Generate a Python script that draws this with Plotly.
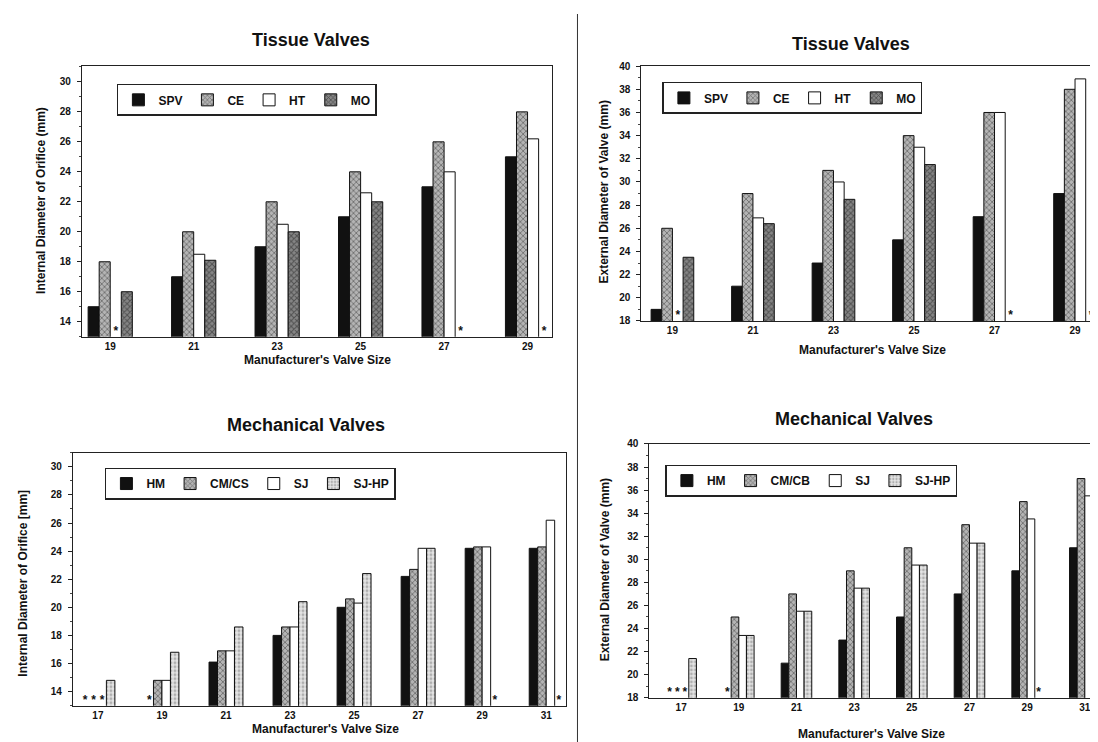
import plotly.graph_objects as go

W, H = 1098, 742

# ---------------- data ----------------
tissue_sizes = ["19", "21", "23", "25", "27", "29"]
tissue_series = ["SPV", "CE", "HT", "MO"]

tissue_internal_spv = [15.0, 17.0, 19.0, 21.0, 23.0, 25.0]
tissue_internal_ce = [18.0, 20.0, 22.0, 24.0, 26.0, 28.0]
tissue_internal_ht = [None, 18.5, 20.5, 22.6, 24.0, 26.2]
tissue_internal_mo = [16.0, 18.1, 20.0, 22.0, None, None]

tissue_external_spv = [19.0, 21.0, 23.0, 25.0, 27.0, 29.0]
tissue_external_ce = [26.0, 29.0, 31.0, 34.0, 36.0, 38.0]
tissue_external_ht = [None, 26.9, 30.0, 33.0, 36.0, 38.9]
tissue_external_mo = [23.5, 26.4, 28.5, 31.5, None, None]

mech_sizes = ["17", "19", "21", "23", "25", "27", "29", "31"]
mech_series_int = ["HM", "CM/CS", "SJ", "SJ-HP"]
mech_series_ext = ["HM", "CM/CB", "SJ", "SJ-HP"]

mech_internal_hm = [None, None, 16.1, 18.0, 20.0, 22.2, 24.2, 24.2]
mech_internal_cm = [None, 14.8, 16.9, 18.6, 20.6, 22.7, 24.3, 24.3]
mech_internal_sj = [None, 14.8, 16.9, 18.6, 20.3, 24.2, 24.3, 26.2]
mech_internal_sjhp = [14.8, 16.8, 18.6, 20.4, 22.4, 24.2, None, None]

mech_external_hm = [None, None, 21.0, 23.0, 25.0, 27.0, 29.0, 31.0]
mech_external_cm = [None, 25.0, 27.0, 29.0, 31.0, 33.0, 35.0, 37.0]
mech_external_sj = [None, 23.4, 25.5, 27.5, 29.5, 31.4, 33.5, 35.5]
mech_external_sjhp = [21.4, 23.4, 25.5, 27.5, 29.5, 31.4, None, None]

# ---------------- styles ----------------
FONT = "Liberation Sans, Arial, sans-serif"
BARGAP = 0.47

styles = [
    dict(color="#111111", pattern=None),
    dict(color="#8e8e8e", pattern=dict(shape="x", size=4, solidity=0.4,
                                        fgcolor="#2e2e2e", bgcolor="#b4b4b4")),
    dict(color="#ffffff", pattern=None),
    dict(color="#5e5e5e", pattern=dict(shape="x", size=4, solidity=0.45,
                                        fgcolor="#1e1e1e", bgcolor="#858585")),
]
styles_mech = [
    styles[0],
    styles[1],
    styles[2],
    dict(color="#d0d0d0", pattern=dict(shape=".", size=4, solidity=0.4,
                                        fgcolor="#777777", bgcolor="#e4e4e4")),
]

# panel layout in pixels: left, right, top, bottom
panels = [
    dict(name="1", cats=tissue_sizes, series=tissue_series,
         values=[tissue_internal_spv, tissue_internal_ce, tissue_internal_ht, tissue_internal_mo],
         styles=styles, box=(74, 544, 53, 328), xr=(-0.339, 5.287), yr=(13, 31.05),
         ticks=list(range(14, 31, 2)),
         title="Tissue Valves", title_xy=(303, 26),
         ytitle="Internal Diameter of Orifice (mm)", ytitle_xy=(33, 189),
         xtitle_xy=(310, 352), legend_xy=(109, 71)),
    dict(name="2", cats=tissue_sizes, series=tissue_series,
         values=[tissue_external_spv, tissue_external_ce, tissue_external_ht, tissue_external_mo],
         styles=styles, box=(634, 1093, 53, 312), xr=(-0.385, 5.31), yr=(18, 40),
         ticks=list(range(18, 41, 2)),
         title="Tissue Valves", title_xy=(844, 30),
         ytitle="External Diameter of Valve (mm)", ytitle_xy=(597, 181),
         xtitle_xy=(865, 342), legend_xy=(655, 69)),
    dict(name="3", cats=mech_sizes, series=mech_series_int,
         values=[mech_internal_hm, mech_internal_cm, mech_internal_sj, mech_internal_sjhp],
         styles=styles_mech, box=(65, 559, 446, 703), xr=(-0.39, 7.317), yr=(13, 31),
         ticks=list(range(14, 31, 2)),
         title="Mechanical Valves", title_xy=(298, 418),
         ytitle="Internal Diameter of Orifice [mm]", ytitle_xy=(15, 578),
         xtitle_xy=(318, 727), legend_xy=(97, 461)),
    dict(name="4", cats=mech_sizes, series=mech_series_ext,
         values=[mech_external_hm, mech_external_cm, mech_external_sj, mech_external_sjhp],
         styles=styles_mech, box=(642, 1098, 437, 695), xr=(-0.55, 7.35), yr=(18, 40),
         ticks=list(range(18, 41, 2)),
         title="Mechanical Valves", title_xy=(847, 412),
         ytitle="External Diameter of Valve (mm)", ytitle_xy=(597, 565),
         xtitle_xy=(864, 732), legend_xy=(658, 458)),
]

fig = go.Figure()
annotations = []
layout = dict()

for p in panels:
    n = p["name"]
    xa = "x" if n == "1" else "x" + n
    ya = "y" if n == "1" else "y" + n
    leg = "legend" if n == "1" else "legend" + n
    l, r, t, b = p["box"]
    nser = len(p["series"])
    idx = list(range(len(p["cats"])))
    for j, (sname, vals, st) in enumerate(zip(p["series"], p["values"], p["styles"])):
        marker = dict(color=st["color"], line=dict(color="#111111", width=1))
        if st["pattern"]:
            marker["pattern"] = st["pattern"]
        fig.add_trace(go.Bar(
            x=idx, y=vals, name=sname, marker=marker,
            xaxis=xa, yaxis=ya, legend=leg, offsetgroup=str(j),
        ))
    # asterisks for missing values
    w = (1 - BARGAP) / nser
    unit_per_px = (p["yr"][1] - p["yr"][0]) / (b - t)
    ax_, ay_ = [], []
    for j, vals in enumerate(p["values"]):
        for i, v in enumerate(vals):
            if v is None:
                ax_.append(i - (1 - BARGAP) / 2 + w * (j + 0.5))
                ay_.append(p["yr"][0] + 5 * unit_per_px)
    fig.add_trace(go.Scatter(
        x=ax_, y=ay_, mode="text", text=["*"] * len(ax_),
        textfont=dict(family=FONT, size=12, color="#111111", weight="bold"),
        xaxis=xa, yaxis=ya, showlegend=False, hoverinfo="skip", cliponaxis=True,
    ))

    layout["xaxis" if n == "1" else "xaxis" + n] = dict(
        domain=[l / W, r / W], anchor=ya, range=list(p["xr"]),
        tickmode="array", tickvals=idx, ticktext=p["cats"],
        showline=True, mirror=True, linecolor="#222222", linewidth=1,
        ticks="", showgrid=False, zeroline=False,
        tickfont=dict(family=FONT, size=10, color="#111111", weight="bold"),
    )
    layout["yaxis" if n == "1" else "yaxis" + n] = dict(
        domain=[1 - b / H, 1 - t / H], anchor=xa, range=list(p["yr"]),
        tickmode="array", tickvals=p["ticks"], ticktext=[str(v) for v in p["ticks"]],
        showline=True, mirror=True, linecolor="#222222", linewidth=1,
        ticks="outside", ticklen=4, tickcolor="#222222", ticklabelstandoff=4,
        minor=dict(ticks="outside", ticklen=2, dtick=1, tickcolor="#444444"),
        showgrid=False, zeroline=False,
        tickfont=dict(family=FONT, size=10, color="#111111", weight="bold"),
    )
    layout[leg] = dict(
        x=p["legend_xy"][0] / W, y=1 - p["legend_xy"][1] / H,
        xanchor="left", yanchor="top", orientation="h",
        bordercolor="#222222", borderwidth=1.5, bgcolor="white",
        font=dict(family=FONT, size=12, color="#111111", weight="bold"),
        itemwidth=30, traceorder="normal",
    )
    annotations.append(dict(
        text=p["title"], x=p["title_xy"][0] / W, y=1 - p["title_xy"][1] / H,
        xref="paper", yref="paper", showarrow=False, xanchor="center", yanchor="middle",
        font=dict(family=FONT, size=18, color="#111111", weight="bold"),
    ))
    annotations.append(dict(
        text="Manufacturer's Valve Size", x=p["xtitle_xy"][0] / W, y=1 - p["xtitle_xy"][1] / H,
        xref="paper", yref="paper", showarrow=False, xanchor="center", yanchor="middle",
        font=dict(family=FONT, size=12, color="#111111", weight="bold"),
    ))
    annotations.append(dict(
        text=p["ytitle"], x=p["ytitle_xy"][0] / W, y=1 - p["ytitle_xy"][1] / H,
        xref="paper", yref="paper", showarrow=False, xanchor="center", yanchor="middle",
        textangle=-90,
        font=dict(family=FONT, size=12, color="#111111", weight="bold"),
    ))

fig.update_layout(
    width=W, height=H, margin=dict(l=0, r=0, t=0, b=0),
    paper_bgcolor="white", plot_bgcolor="white",
    barmode="group", bargap=BARGAP, bargroupgap=0,
    annotations=annotations,
    shapes=[dict(type="line", xref="paper", yref="paper",
                 x0=570 / W, x1=570 / W, y0=0, y1=1,
                 line=dict(color="#333333", width=1))],
    **layout,
)

fig.write_html("out.html")
